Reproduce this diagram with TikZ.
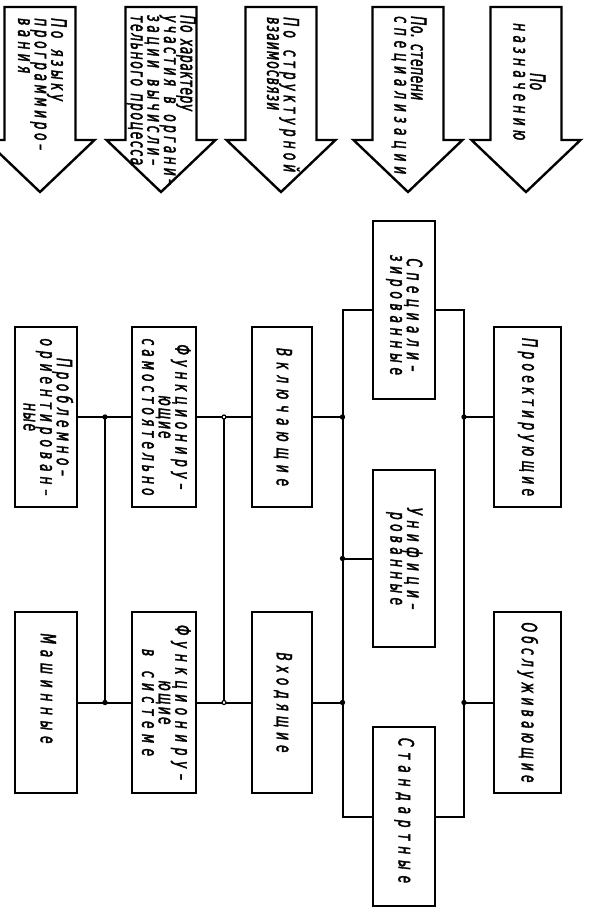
\documentclass[tikz,border=0pt]{standalone}
\usepackage{fontspec}
\usepackage{graphicx}
\newfontfamily\gost{DejaVu Sans}[FakeStretch=0.58,FakeBold=1.8]
\usetikzlibrary{calc}
\newcommand\gostfont{\gost\itshape\fontsize{21}{16}\selectfont}
\makeatletter
% set a line of text to an exact length by spreading its letters
\newcommand\spl[2]{\hbox to #1pt{\spr@first#2\relax}}
\def\spr@first#1{#1\spr@rest}
\def\spr@rest#1{\ifx\relax#1\else\hskip 0pt plus 1fil minus 1pt\relax#1\expandafter\spr@rest\fi}
\makeatother
\newcommand\wsp{\hskip 5pt}
\newcommand\vt[2][c]{\rotatebox{-90}{\begin{tabular}{@{}#1@{}}#2\end{tabular}}}
\newcommand\bigarrow[1]{%
  \draw[arr] ({#1-35.5},7) -- ({#1+35.5},7) -- ({#1+35.5},140) -- ({#1+54.5},140)
    -- (#1,192) -- ({#1-54.5},140) -- ({#1-35.5},140) -- cycle;}
\begin{document}
\begin{tikzpicture}[x=1pt,y=-1pt,
  box/.style={draw, line width=2.6pt, inner sep=0pt, font=\gostfont},
  txt/.style={inner sep=0pt, font=\gostfont},
  arr/.style={draw, line width=2.4pt, line join=miter},
  conn/.style={line width=2pt},
  dotf/.style={fill=black},
  doto/.style={draw, line width=1.2pt, fill=white}]
\useasboundingbox (0,0) rectangle (600,914);
% classification arrows
\bigarrow{40}
\bigarrow{161}
\bigarrow{281}
\bigarrow{408}
\bigarrow{526}
\node[txt, anchor=north] (a1) at (40,18) {\vt[l]{\spl{83}{По\ языку}\\\spl{132}{программиро–}\\\spl{55}{вания}}};
\node[txt, anchor=north] (a2) at (161,15) {\vt[l]{\spl{96}{По\wsp характеру}\\\spl{170}{участия\ в\ органи–}\\\spl{150}{зации\ вычисли–}\\\spl{150}{тельного\ процесса}}};
\node[txt, anchor=north] (a3) at (281,17) {\vt[l]{\spl{155}{По\ структурной}\\\spl{93}{взаимосвязи}}};
\node[txt, anchor=north] (a4) at (408,16) {\vt[l]{\spl{84}{По.\wsp степени}\\\spl{158}{специализации}}};
\node[txt, anchor=north] (a5) at (527,23) {\vt{\spl{17}{По}\\\spl{117}{назначению}}};
% boxes
\node[box, minimum width=62, minimum height=180] (b1u) at (46,417) {\vt{\spl{118}{Проблемно–}\\\spl{157}{ориентирован–}\\\spl{28}{ные}}};
\node[box, minimum width=62, minimum height=181] (b1l) at (46,702.5) {\vt{\spl{110}{Машинные}\kern28pt}};
\node[box, minimum width=64, minimum height=180] (b2u) at (164,417) {\vt{\spl{145}{Функциониру–}\\\spl{43}{ющие}\\\spl{157}{самостоятельно}}};
\node[box, minimum width=64, minimum height=181] (b2l) at (164,702.5) {\vt{\spl{155}{Функциониру–}\\\spl{44}{ющие}\\\spl{107}{в\ системе}}};
\node[box, minimum width=60, minimum height=180] (b3u) at (282,417) {\vt{\spl{138}{Включающие}}};
\node[box, minimum width=60, minimum height=181] (b3l) at (282,702.5) {\vt{\spl{100}{Входящие}}};
\node[box, minimum width=62, minimum height=178] (spec) at (404,310) {\vt{\kern10pt\spl{113}{Специали–}\\\kern10pt\spl{120}{зированные}}};
\node[box, minimum width=62, minimum height=177] (unif) at (404,558.5) {\vt{\spl{102}{Унифици–}\\\spl{93}{рованные}}};
\node[box, minimum width=62, minimum height=179] (stand) at (404,816.5) {\vt{\spl{145}{Стандартные}\kern12pt}};
\node[box, minimum width=67, minimum height=180] (b5u) at (527.5,417) {\vt{\spl{158}{Проектирующие}}};
\node[box, minimum width=67, minimum height=181] (b5l) at (527.5,702.5) {\vt{\spl{160}{Обслуживающие}}};
% junction points
\coordinate (j1u) at (105,417);
\coordinate (j1l) at (105,702.5);
\coordinate (j2u) at (224,417);
\coordinate (j2l) at (224,702.5);
\coordinate (j3u) at (342.5,417);
\coordinate (j3l) at (342.5,702.5);
\coordinate (j3m) at (342.5,558.5);
\coordinate (j4u) at (464,417);
\coordinate (j4l) at (464,702.5);
% connectors
\draw[conn] (b1u.east) -- (b2u.west);
\draw[conn] (b1l.east) -- (b2l.west);
\draw[conn] (j1u) -- (j1l);
\draw[conn] (b2u.east) -- (b3u.west);
\draw[conn] (b2l.east) -- (b3l.west);
\draw[conn] (j2u) -- (j2l);
\draw[conn] (spec.west) -| (stand.west -| j3u) -- (stand.west);
\draw[conn] (b3u.east) -- (j3u);
\draw[conn] (b3l.east) -- (j3l);
\draw[conn] (unif.west) -- (j3m);
\draw[conn] (spec.east) -| (stand.east -| j4u) -- (stand.east);
\draw[conn] (j4u) -- (b5u.west);
\draw[conn] (j4l) -- (b5l.west);
% junction dots
\foreach \p in {j1u,j1l,j3u,j3l,j3m,j4u,j4l} \fill[dotf] (\p) circle (2.7pt);
\foreach \p in {j2u,j2l} \draw[doto] (\p) circle (2pt);
\end{tikzpicture}
\end{document}
